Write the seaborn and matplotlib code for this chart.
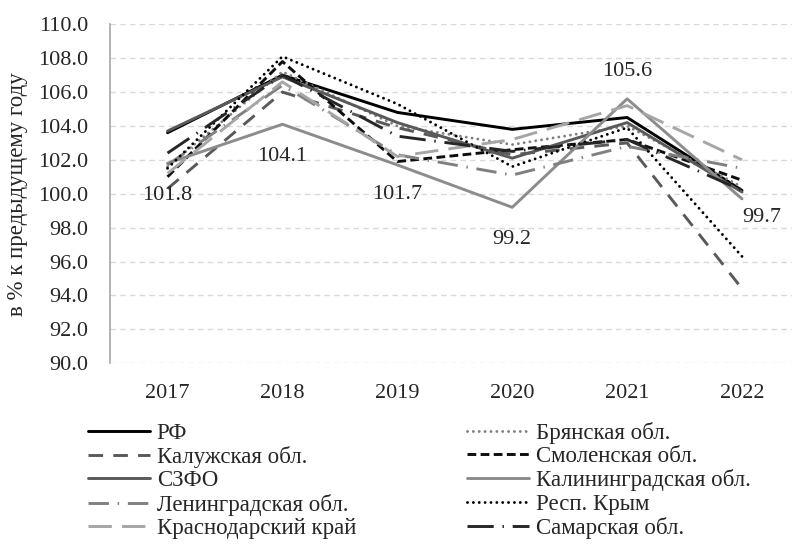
import pandas as pd
import matplotlib
matplotlib.use("Agg")
import matplotlib.pyplot as plt
import seaborn as sns

years = [2017, 2018, 2019, 2020, 2021, 2022]

rf = [103.6, 107.0, 104.8, 103.8, 104.5, 100.2]
bryansk = [101.6, 107.2, 104.0, 102.9, 104.0, 100.4]
kaluga = [100.3, 106.0, 103.9, 102.3, 103.0, 94.4]
smolensk = [101.0, 107.8, 101.9, 102.6, 103.2, 100.8]
szfo = [103.7, 106.9, 104.2, 102.1, 104.2, 100.1]
kaliningrad = [101.8, 104.1, 101.7, 99.2, 105.6, 99.7]
leningrad = [101.7, 106.4, 102.3, 101.1, 102.8, 101.5]
crimea = [101.5, 108.1, 105.3, 101.6, 103.9, 96.3]
krasnodar = [101.2, 106.6, 102.2, 103.2, 105.2, 102.0]
samara = [102.4, 107.0, 103.4, 102.5, 103.2, 100.2]

names = ["РФ", "Брянская обл.", "Калужская обл.", "Смоленская обл.", "СЗФО",
         "Калининградская обл.", "Ленинградская обл.", "Респ. Крым",
         "Краснодарский край", "Самарская обл."]
series = [rf, bryansk, kaluga, smolensk, szfo, kaliningrad, leningrad,
          crimea, krasnodar, samara]

# colour, dash pattern (None = solid), round caps for dotted lines
styles = {
    "РФ": ("#000000", None, False),
    "Брянская обл.": ("#7f7f7f", (0.01, 2.0), True),
    "Калужская обл.": ("#595959", (5, 3.5), False),
    "Смоленская обл.": ("#0d0d0d", (3, 1.5), False),
    "СЗФО": ("#595959", None, False),
    "Калининградская обл.": ("#8c8c8c", None, False),
    "Ленинградская обл.": ("#808080", (7, 3, 0.5, 3), False),
    "Респ. Крым": ("#000000", (0.01, 2.0), True),
    "Краснодарский край": ("#a6a6a6", (8, 3.5), False),
    "Самарская обл.": ("#262626", (9, 3, 0.5, 3), False),
}

df = pd.DataFrame({"year": years * len(names),
                   "value": [v for s in series for v in s],
                   "region": [n for n in names for _ in years]})

sns.set_style("white")
plt.rcParams["font.family"] = ["Liberation Serif", "DejaVu Serif"]
plt.rcParams["font.size"] = 16

fig = plt.figure(figsize=(7.92, 5.52), dpi=100)
ax = fig.add_axes([0.139, 0.342, 0.861, 0.614])

lines = {}
for name in names:
    color, dash, rnd = styles[name]
    sns.lineplot(data=df[df["region"] == name], x="year", y="value",
                 color=color, linewidth=2.1, ax=ax, label=name, legend=False)
    ln = ax.lines[-1]
    if dash is not None:
        ln.set_dashes(dash)
    if rnd:
        ln.set_dash_capstyle("round")
    lines[name] = ln

# data labels for Калининградская обл.
offsets = [(0, -32), (0, -32), (0, -30), (0, -32), (0, 27), (20, -19)]
for x, y, off in zip(years, kaliningrad, offsets):
    ax.annotate(f"{y:.1f}", (x, y), xytext=off, textcoords="offset pixels",
                ha="center", va="center", fontsize=16)

ax.set_xlim(2016.5, 2022.435)
ax.set_ylim(90, 110)
ax.set_xticks(years)
ax.set_yticks(range(90, 111, 2))
ax.yaxis.set_major_formatter(matplotlib.ticker.FormatStrFormatter("%.1f"))
ax.tick_params(axis="both", length=0, labelsize=16)
ax.tick_params(axis="y", pad=16)
ax.tick_params(axis="x", pad=15)
ax.yaxis.grid(True, color="#d9d9d9", linestyle=(0, (4, 3)), linewidth=1)
ax.xaxis.grid(False)
for s in ["top", "right", "bottom"]:
    ax.spines[s].set_visible(False)
ax.spines["left"].set_color("#a6a6a6")
ax.spines["left"].set_linewidth(1.2)
ax.set_xlabel("")
ax.set_ylabel("в % к предыдущему году", fontsize=16.5, labelpad=7)

order = ["РФ", "Калужская обл.", "СЗФО", "Ленинградская обл.", "Краснодарский край",
         "Брянская обл.", "Смоленская обл.", "Калининградская обл.", "Респ. Крым",
         "Самарская обл."]
fig.legend([lines[n] for n in order], order, ncol=2, loc="upper left",
           bbox_to_anchor=(0.111, 0.236), frameon=False, fontsize=16.5,
           handlelength=2.7, handletextpad=0.3, labelspacing=0.1,
           columnspacing=4.85, borderaxespad=0, borderpad=0)

fig.savefig("out.png", dpi=100)
